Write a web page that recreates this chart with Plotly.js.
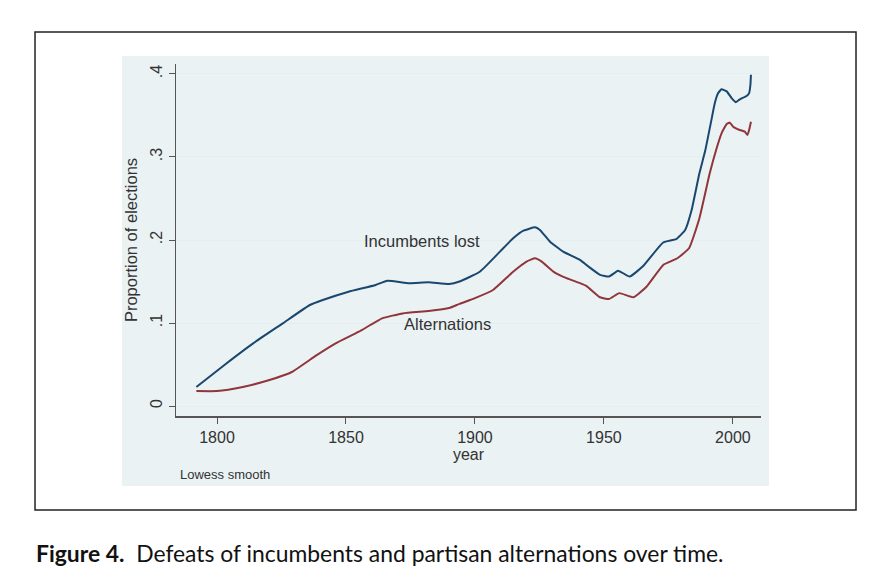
<!DOCTYPE html>
<html>
<head>
<meta charset="utf-8">
<script src="https://cdn.plot.ly/plotly-3.0.1.min.js"></script>
<style>
  html, body { margin: 0; padding: 0; background: #ffffff; }
  #chart { width: 883px; height: 574px; }
</style>
</head>
<body>
<div id="chart"></div>
<script>
// Lowess-smoothed proportions
const incYears = [1792, 1803.5, 1814, 1825.5, 1836, 1841, 1851, 1861.5, 1866, 1874.5,
  1882, 1890, 1894, 1901.9, 1909.7, 1914.8, 1918.8, 1923.3, 1925.2, 1929.1, 1934.2,
  1940.7, 1944, 1948.5, 1952, 1955.5, 1960, 1965, 1973, 1978, 1981.5, 1984, 1987,
  1989.3, 1991.7, 1993, 1994.3, 1995.6, 1997.6, 1999.5, 2001.2, 2002.7, 2005.3,
  2006.3, 2006.8, 2007];
const incLost = [0.023, 0.051, 0.0755, 0.0996, 0.1217, 0.1277, 0.1377, 0.1458, 0.151, 0.148,
  0.149, 0.147, 0.150, 0.1618, 0.186, 0.202, 0.2112, 0.2153, 0.212, 0.198, 0.186,
  0.176, 0.168, 0.158, 0.156, 0.163, 0.156, 0.168, 0.197, 0.201, 0.212, 0.236, 0.280,
  0.308, 0.345, 0.365, 0.377, 0.3815, 0.379, 0.371, 0.366, 0.3695, 0.3735,
  0.377, 0.387, 0.399];

const altYears = [1792, 1800, 1810, 1820, 1829, 1838.5, 1846, 1855, 1864, 1872, 1882,
  1890, 1894, 1900, 1907, 1914.8, 1920, 1923.3, 1925.9, 1930.4, 1935.5, 1940.7, 1943.3,
  1948.5, 1952, 1956, 1961.5, 1966.5, 1973, 1978.5, 1983, 1987, 1991, 1993.7, 1995.6,
  1997.6, 1998.8, 2000.1, 2002.7, 2004.6, 2005.6, 2006.3, 2007];
const alternations = [0.018, 0.018, 0.023, 0.031, 0.041, 0.061, 0.0755, 0.0895, 0.1056, 0.1116, 0.1145,
  0.118, 0.123, 0.130, 0.1398, 0.1618, 0.174, 0.178, 0.174, 0.162, 0.154, 0.148, 0.1445,
  0.131, 0.129, 0.136, 0.131, 0.1437, 0.170, 0.178, 0.190, 0.226, 0.280, 0.3105, 0.3285,
  0.3398, 0.3414, 0.3365, 0.3325, 0.3305, 0.3265, 0.3325, 0.3425];

const xTicks = [1800, 1850, 1900, 1950, 2000];
const yTicks = [0, 0.1, 0.2, 0.3, 0.4];
const yTickText = ['0', '.1', '.2', '.3', '.4'];

const stataFont = 'Liberation Sans, Arial, sans-serif';
const textCol = '#333333';

const traces = [
  {
    x: incYears, y: incLost, type: 'scatter', mode: 'lines',
    line: { color: '#1a476f', width: 2, shape: 'spline', smoothing: 0.4 }, hoverinfo: 'skip'
  },
  {
    x: altYears, y: alternations, type: 'scatter', mode: 'lines',
    line: { color: '#90353b', width: 2, shape: 'spline', smoothing: 0.4 }, hoverinfo: 'skip'
  }
];

const layout = {
  width: 883,
  height: 574,
  margin: { l: 176, r: 122, t: 64, b: 158, pad: 0 },
  paper_bgcolor: '#ffffff',
  plot_bgcolor: '#ffffff',
  showlegend: false,
  font: { family: stataFont, size: 16, color: textCol },
  xaxis: {
    range: [1784.1, 2010.9],
    tickvals: xTicks,
    ticks: 'outside', ticklen: 6, tickcolor: '#555555', tickwidth: 1,
    showline: true, linecolor: '#555555', linewidth: 1.5,
    showgrid: false, zeroline: false,
    tickfont: { size: 16, color: textCol },
    title: { text: 'year', font: { size: 16, color: textCol }, standoff: 2 }
  },
  yaxis: {
    range: [-0.012, 0.412],
    tickvals: yTicks, ticktext: yTickText, tickangle: -90,
    ticks: 'outside', ticklen: 6, tickcolor: '#555555', tickwidth: 1,
    showline: true, linecolor: '#555555', linewidth: 1.5,
    showgrid: true, gridcolor: '#e4edf0', gridwidth: 1, zeroline: false,
    tickfont: { size: 16, color: textCol },
    title: { text: 'Proportion of elections', font: { size: 16.5, color: textCol }, standoff: 6 }
  },
  shapes: [
    // Stata graph region
    {
      type: 'rect', xref: 'paper', yref: 'paper', layer: 'below',
      x0: -0.0923, x1: 1.0137, y0: -0.199, y1: 1.0227,
      fillcolor: '#eaf2f3', line: { width: 0 }
    },
    // outer frame of the figure
    {
      type: 'rect', xref: 'paper', yref: 'paper', layer: 'below',
      x0: -0.241, x1: 1.1624, y0: -0.267, y1: 1.0909,
      fillcolor: 'rgba(0,0,0,0)', line: { color: '#222222', width: 1.5 }
    }
  ],
  annotations: [
    {
      x: 1879.5, y: 0.199, xref: 'x', yref: 'y', text: 'Incumbents lost',
      showarrow: false, font: { size: 16.5, color: textCol }
    },
    {
      x: 1889.5, y: 0.099, xref: 'x', yref: 'y', text: 'Alternations',
      showarrow: false, font: { size: 16.5, color: textCol }
    },
    {
      x: 0.004, y: -0.165, xref: 'paper', yref: 'paper', xanchor: 'left', yanchor: 'middle',
      text: 'Lowess smooth', showarrow: false, font: { size: 13, color: textCol }
    },
    {
      x: -0.243, y: -0.389, xref: 'paper', yref: 'paper', xanchor: 'left', yanchor: 'middle',
      text: '<b>Figure 4.</b>  Defeats of incumbents and partisan alternations over time.',
      showarrow: false, font: { family: 'Lato, Open Sans, sans-serif', size: 22.9, color: '#111111' }
    }
  ]
};

Plotly.newPlot('chart', traces, layout, { staticPlot: true, displayModeBar: false });
</script>
</body>
</html>
